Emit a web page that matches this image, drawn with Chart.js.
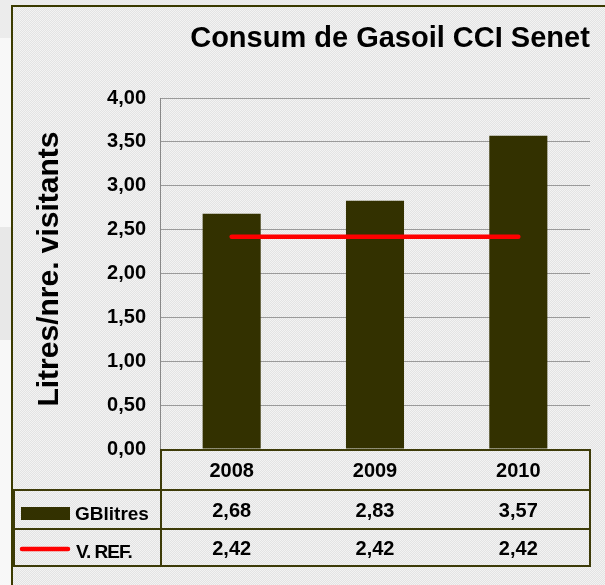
<!DOCTYPE html>
<html><head><meta charset="utf-8">
<script src="https://cdn.jsdelivr.net/npm/chart.js@4/dist/chart.umd.min.js"></script>
<style>
html,body{margin:0;padding:0;}
body{width:605px;height:585px;position:relative;overflow:hidden;background:#ececec;font-family:"Liberation Sans",Arial,sans-serif;}
#lw{position:absolute;left:0;top:38px;width:11px;height:547px;background:#f8f8f8;}
#lg{position:absolute;left:0;top:227px;width:11px;height:113px;background:#e8e8e8;}
#frame{position:absolute;left:11px;top:5px;width:600px;height:590px;border-left:2px solid #3b3b00;border-top:2px solid #3b3b00;background:#ebebeb repeating-conic-gradient(#e3e3e3 0% 25%, #f3f3f3 0% 50%) 0 0/2px 2px;}
#wrap{position:absolute;left:0;top:0;width:605px;height:585px;}
</style></head><body>
<div id="lw"></div><div id="lg"></div><div id="frame"></div>
<div id="wrap"><canvas id="c" width="605" height="585"></canvas></div>
<script>
const chartTitle = 'Consum de Gasoil CCI Senet';
const yAxisTitle = 'Litres/nre. visitants';
const years = ['2008', '2009', '2010'];
const seriesNames = ['GBlitres', 'V. REF.'];
const gbLitres = [2.68, 2.83, 3.57];
const vRef = [2.42, 2.42, 2.42];
const yMin = 0, yMax = 4, yStep = 0.5;

const BAR = '#333100';
const RED = '#ff0000';
const LINE = '#3d3b08';
const FONT = '"Liberation Sans", Arial, sans-serif';
const fmt = v => v.toFixed(2).replace('.', ',');

const tablePlugin = {
  id: 'tablePlugin',
  afterDraw(chart) {
    const ctx = chart.ctx;
    const xs = chart.scales.x;
    const area = chart.chartArea;
    ctx.save();
    // chart title
    ctx.fillStyle = '#000';
    ctx.font = 'bold 29px ' + FONT;
    ctx.textAlign = 'center';
    ctx.textBaseline = 'alphabetic';
    ctx.fillText(chartTitle, 390, 47);
    // y axis title
    ctx.save();
    ctx.translate(58, 269);
    ctx.rotate(-Math.PI / 2);
    ctx.font = 'bold 30px ' + FONT;
    ctx.textAlign = 'center';
    ctx.fillText(yAxisTitle, 0, 0);
    ctx.restore();

    // table geometry
    const L = 14, M = area.left + 1, R = area.right;
    const y0 = 450, y1 = 490, y2 = 529, y3 = 566;
    ctx.strokeStyle = LINE;
    ctx.lineWidth = 2;
    ctx.beginPath();
    ctx.moveTo(M, y0); ctx.lineTo(R, y0);
    ctx.moveTo(L, y1); ctx.lineTo(R, y1);
    ctx.moveTo(L, y2); ctx.lineTo(R, y2);
    ctx.moveTo(L - 1, y3); ctx.lineTo(R + 1, y3);
    ctx.moveTo(L, y1 - 1); ctx.lineTo(L, y3);
    ctx.moveTo(M, y0 - 1); ctx.lineTo(M, y3);
    ctx.moveTo(R, y0 - 1); ctx.lineTo(R, y3);
    ctx.stroke();

    // header years and values
    ctx.fillStyle = '#000';
    ctx.font = 'bold 20px ' + FONT;
    ctx.textAlign = 'center';
    ctx.textBaseline = 'middle';
    years.forEach((yr, i) => {
      const cx = xs.getPixelForValue(i);
      ctx.fillText(yr, cx, (y0 + y1) / 2 + 1);
      ctx.fillText(fmt(gbLitres[i]), cx, (y1 + y2) / 2 + 2);
      ctx.fillText(fmt(vRef[i]), cx, (y2 + y3) / 2 + 2);
    });

    // legend keys
    ctx.fillStyle = BAR;
    ctx.fillRect(21, 507, 49, 13);
    ctx.strokeStyle = RED;
    ctx.lineWidth = 4.5;
    ctx.lineCap = 'round';
    ctx.beginPath();
    ctx.moveTo(22, 549); ctx.lineTo(68, 549);
    ctx.stroke();

    ctx.fillStyle = '#000';
    ctx.textAlign = 'left';
    ctx.textBaseline = 'alphabetic';
    ctx.font = 'bold 19px ' + FONT;
    ctx.letterSpacing = '0px';
    ctx.fillText(seriesNames[0], 75, 520);
    ctx.letterSpacing = '-1px';
    ctx.fillText(seriesNames[1], 76, 558);
    ctx.letterSpacing = '0px';
    ctx.restore();
  }
};

new Chart(document.getElementById('c'), {
  type: 'bar',
  data: {
    labels: years,
    datasets: [
      {
        type: 'line',
        label: seriesNames[1],
        data: vRef,
        borderColor: RED,
        backgroundColor: RED,
        borderWidth: 4.5,
        borderCapStyle: 'round',
        pointRadius: 0,
        tension: 0,
        order: 1
      },
      {
        type: 'bar',
        label: seriesNames[0],
        data: gbLitres,
        backgroundColor: BAR,
        borderWidth: 0,
        categoryPercentage: 0.81,
        barPercentage: 0.5,
        order: 2
      }
    ]
  },
  options: {
    responsive: false,
    animation: false,
    devicePixelRatio: 1,
    layout: { padding: { left: 0, right: 15, top: 98, bottom: 136 } },
    plugins: {
      legend: { display: false },
      title: { display: false },
      tooltip: { enabled: false }
    },
    scales: {
      x: {
        display: false,
        offset: true,
        grid: { display: false }
      },
      y: {
        min: yMin,
        max: yMax,
        afterFit: s => { s.width = 160; },
        ticks: {
          stepSize: yStep,
          padding: 14,
          color: '#000',
          font: { family: FONT, size: 20, weight: 'bold' },
          callback: v => fmt(v)
        },
        grid: { color: '#9a9a9a', lineWidth: 1, drawTicks: false },
        border: { color: '#888888', width: 1 }
      }
    }
  },
  plugins: [tablePlugin]
});
</script>
</body></html>
